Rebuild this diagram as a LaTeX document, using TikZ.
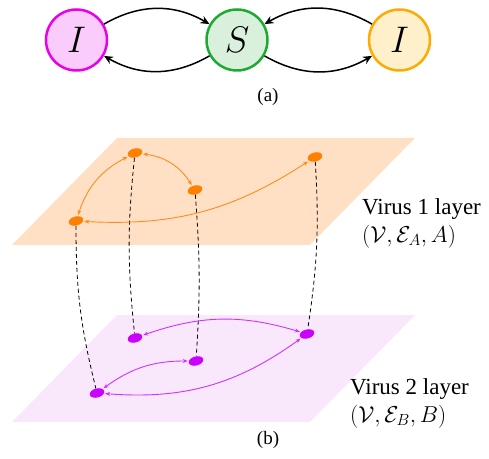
\RequirePackage{fix-cm}
\documentclass[tikz,border=0pt]{standalone}
\usepackage{fontspec}
\setmainfont{Liberation Serif}
\usetikzlibrary{arrows.meta,shapes.geometric}
\definecolor{imag}{RGB}{232,0,232}
\definecolor{imagfill}{RGB}{249,204,251}
\definecolor{sgreen}{RGB}{30,170,50}
\definecolor{sfill}{RGB}{216,240,220}
\definecolor{iorange}{RGB}{255,170,0}
\definecolor{iofill}{RGB}{255,240,204}
\definecolor{planeA}{RGB}{255,224,196}
\definecolor{planeB}{RGB}{249,231,252}
\definecolor{nodeA}{RGB}{255,128,0}
\definecolor{edgeA}{RGB}{255,140,30}
\definecolor{nodeB}{RGB}{204,0,255}
\definecolor{edgeB}{RGB}{204,51,255}
\tikzset{
  state/.style={circle,line width=2.5pt,minimum size=61pt,inner sep=0pt,font=\fontsize{37}{40}\selectfont},
  trans/.style={line width=1.5pt,-{Stealth[length=9pt,width=8pt]}},
  vA/.style={ellipse,fill=nodeA,minimum width=15pt,minimum height=9pt,inner sep=0pt,rotate=15},
  vB/.style={ellipse,fill=nodeB,minimum width=15pt,minimum height=9pt,inner sep=0pt,rotate=15},
  eA/.style={draw=edgeA,line width=0.9pt,{Stealth[length=5pt,width=4pt]}-{Stealth[length=5pt,width=4pt]},shorten <=1pt,shorten >=1pt},
  eB/.style={draw=edgeB,line width=0.9pt,{Stealth[length=5pt,width=4pt]}-{Stealth[length=5pt,width=4pt]},shorten <=1pt,shorten >=1pt},
  link/.style={draw=black,line width=0.8pt,dash pattern=on 4pt off 3pt},
  lbl/.style={font=\fontsize{23}{28}\selectfont,align=left,anchor=west,inner sep=0pt},
  captxt/.style={font=\fontsize{19}{20}\selectfont,inner sep=0pt}
}
\begin{document}
\begin{tikzpicture}[x=1pt,y=1pt]
\useasboundingbox (0,0) rectangle (489,458);
% (a)
\node[state,draw=imag,fill=imagfill] (I1) at (76.5,418) {$I$};
\node[state,draw=sgreen,fill=sfill] (S) at (237,418) {$S$};
\node[state,draw=iorange,fill=iofill] (I2) at (399.5,418) {$I$};
\draw[trans] (I1) to[bend left=30] (S);
\draw[trans] (S) to[bend left=30] (I1);
\draw[trans] (S) to[bend right=30] (I2);
\draw[trans] (I2) to[bend right=30] (S);
\node[captxt] (capa) at (268,361) {(a)};
% planes
\fill[planeA] (117,320) -- (415,320) -- (310,213) -- (12,213) -- cycle;
\fill[planeB] (117,143) -- (415,143) -- (310,36) -- (12,36) -- cycle;
% nodes
\node[vA] (a1) at (135,305) {};
\node[vA] (a2) at (195,268) {};
\node[vA] (a3) at (315,301) {};
\node[vA] (a4) at (76,237) {};
\node[vB] (b1) at (135,120) {};
\node[vB] (b2) at (196,97) {};
\node[vB] (b3) at (307,124) {};
\node[vB] (b4) at (97,65) {};
% interlayer links
\draw[link] (a1) to[bend right=6] (b1);
\draw[link] (a2) to[bend left=4] (b2);
\draw[link] (a3) to[bend left=6] (b3);
\draw[link] (a4) to[bend right=7] (b4);
% layer A edges
\draw[eA] (a1) to[bend left=25] (a2);
\draw[eA] (a1) to[bend right=22] (a4);
\draw[eA] (a4) to[bend right=18] (a3);
% layer B edges
\draw[eB] (b1) to[bend left=18] (b3);
\draw[eB] (b2) to[bend right=18] (b4);
\draw[eB] (b4) to[bend right=20] (b3);
% labels
\node[lbl] (labA) at (362,235) {Virus 1 layer\\$(\mathcal{V},\mathcal{E}_A,A)$};
\node[lbl] (labB) at (350,55) {Virus 2 layer\\$(\mathcal{V},\mathcal{E}_B,B)$};
\node[captxt] (capb) at (268,18) {(b)};
\end{tikzpicture}
\end{document}
